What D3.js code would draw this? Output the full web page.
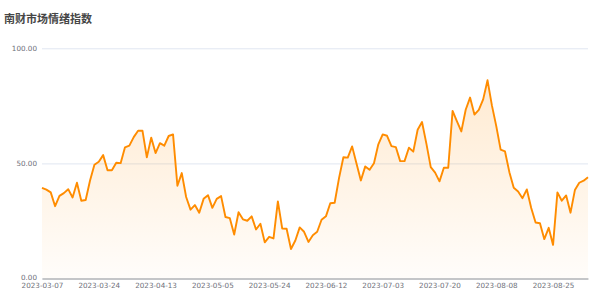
<!DOCTYPE html>
<html>
<head>
<meta charset="utf-8">
<script src="https://cdn.jsdelivr.net/npm/d3@7/dist/d3.min.js"></script>
<style>
html,body{margin:0;padding:0;background:#fff;}
svg{display:block;}
</style>
</head>
<body>
<svg id="chart" width="600" height="300"></svg>
<script>
const title = "南财市场情绪指数";
const dates = [
"2023-03-07","2023-03-08","2023-03-09","2023-03-10","2023-03-13","2023-03-14","2023-03-15","2023-03-16","2023-03-17","2023-03-20","2023-03-21","2023-03-22","2023-03-23","2023-03-24","2023-03-27","2023-03-28","2023-03-29","2023-03-30","2023-03-31",
"2023-04-03","2023-04-04","2023-04-06","2023-04-07","2023-04-10","2023-04-11","2023-04-12","2023-04-13","2023-04-14","2023-04-17","2023-04-18","2023-04-19","2023-04-20","2023-04-21","2023-04-24","2023-04-25","2023-04-26","2023-04-27","2023-04-28",
"2023-05-04","2023-05-05","2023-05-08","2023-05-09","2023-05-10","2023-05-11","2023-05-12","2023-05-15","2023-05-16","2023-05-17","2023-05-18","2023-05-19","2023-05-22","2023-05-23","2023-05-24","2023-05-25","2023-05-26","2023-05-29","2023-05-30","2023-05-31",
"2023-06-01","2023-06-02","2023-06-05","2023-06-06","2023-06-07","2023-06-08","2023-06-09","2023-06-12","2023-06-13","2023-06-14","2023-06-15","2023-06-16","2023-06-19","2023-06-20","2023-06-21","2023-06-26","2023-06-27","2023-06-28","2023-06-29","2023-06-30",
"2023-07-03","2023-07-04","2023-07-05","2023-07-06","2023-07-07","2023-07-10","2023-07-11","2023-07-12","2023-07-13","2023-07-14","2023-07-17","2023-07-18","2023-07-19","2023-07-20","2023-07-21","2023-07-24","2023-07-25","2023-07-26","2023-07-27","2023-07-28","2023-07-31",
"2023-08-01","2023-08-02","2023-08-03","2023-08-04","2023-08-07","2023-08-08","2023-08-09","2023-08-10","2023-08-11","2023-08-14","2023-08-15","2023-08-16","2023-08-17","2023-08-18","2023-08-21","2023-08-22","2023-08-23","2023-08-24","2023-08-25","2023-08-28","2023-08-29","2023-08-30","2023-08-31",
"2023-09-01","2023-09-04","2023-09-05","2023-09-06"
];
const values = [
39.4,38.6,37.4,31.4,35.9,37.1,38.8,35.2,41.6,33.8,
34.1,42.6,49.4,50.7,53.6,47.0,47.0,50.3,50.1,57.0,
57.7,61.4,64.2,64.2,52.6,61.2,54.5,58.8,57.7,61.9,
62.6,40.3,45.8,35.4,29.9,31.9,28.6,34.6,36.2,30.7,
34.6,35.8,26.7,26.2,19.1,28.8,25.7,25.1,27.0,21.3,
23.8,15.7,18.1,17.4,33.5,21.7,21.6,12.8,16.5,22.2,
20.3,15.9,18.8,20.3,25.5,27.0,32.7,32.9,43.6,52.7,
52.5,57.4,50.0,42.6,48.7,47.2,50.1,58.3,62.6,62.0,
57.5,57.1,51.0,51.0,56.8,55.1,64.6,68.0,58.6,48.4,
46.0,42.2,48.1,48.1,72.8,68.3,63.9,73.3,78.6,71.2,
73.3,77.8,86.1,75.2,66.2,56.0,55.2,46.2,39.4,37.8,
34.9,38.7,30.6,24.3,24.0,17.1,22.0,14.6,37.4,33.8,
36.1,28.6,38.4,41.6,42.5,44.0
];
const yTicks = [0, 50, 100];
const labelEvery = 13;

const svg = d3.select("#chart");
const plotLeft = 42, plotRight = 588, plotTop = 48.3, plotBottom = 278.5;

const x = d3.scalePoint().domain(dates).range([plotLeft, plotRight]);
const y = d3.scaleLinear().domain([0, 100]).range([plotBottom, plotTop]);

// title
svg.append("text")
  .attr("x", 4).attr("y", 23)
  .attr("font-family", "'Noto Sans CJK SC', sans-serif")
  .attr("font-size", 11).attr("font-weight", "bold")
  .attr("fill", "#464646")
  .text(title);

// gradient
const defs = svg.append("defs");
const grad = defs.append("linearGradient").attr("id", "areaGrad")
  .attr("gradientUnits", "userSpaceOnUse")
  .attr("x1", 0).attr("x2", 0)
  .attr("y1", y(d3.max(values))).attr("y2", plotBottom);
grad.append("stop").attr("offset", "0%").attr("stop-color", "#ff8c00").attr("stop-opacity", 0.18);
grad.append("stop").attr("offset", "100%").attr("stop-color", "#ff8c00").attr("stop-opacity", 0.02);

// grid lines
const yAxis = d3.axisLeft(y).tickValues(yTicks).tickSize(-(plotRight - plotLeft)).tickPadding(5)
  .tickFormat(d => d3.format(".2f")(d));
const gy = svg.append("g").attr("transform", `translate(${plotLeft},0)`).call(yAxis);
gy.select(".domain").remove();
gy.selectAll(".tick line").attr("stroke", "#E0E6F1").attr("stroke-width", 1);
gy.selectAll(".tick text")
  .attr("font-family", "'DejaVu Sans', sans-serif")
  .attr("font-size", 7.2).attr("fill", "#6E7079");
gy.selectAll(".tick").filter(d => d === 0).select("text").attr("dy", "0.2em");

// area + line
const area = d3.area().x((d, i) => x(dates[i])).y0(plotBottom).y1(d => y(d));
const line = d3.line().x((d, i) => x(dates[i])).y(d => y(d));
svg.append("path").datum(values).attr("d", area).attr("fill", "url(#areaGrad)");
svg.append("path").datum(values).attr("d", line)
  .attr("fill", "none").attr("stroke", "#ff8c00").attr("stroke-width", 1.9)
  .attr("stroke-linejoin", "round");

// x axis
const xAxis = d3.axisBottom(x)
  .tickValues(dates.filter((d, i) => i % labelEvery === 0))
  .tickSize(0).tickPadding(4.5);
const gx = svg.append("g").attr("transform", `translate(0,${plotBottom})`).call(xAxis);
gx.select(".domain").attr("stroke", "#9a9a9a").attr("stroke-width", 1);
gx.selectAll(".tick text")
  .attr("font-family", "'DejaVu Sans', sans-serif")
  .attr("font-size", 7.2).attr("fill", "#6E7079");
</script>
</body>
</html>
